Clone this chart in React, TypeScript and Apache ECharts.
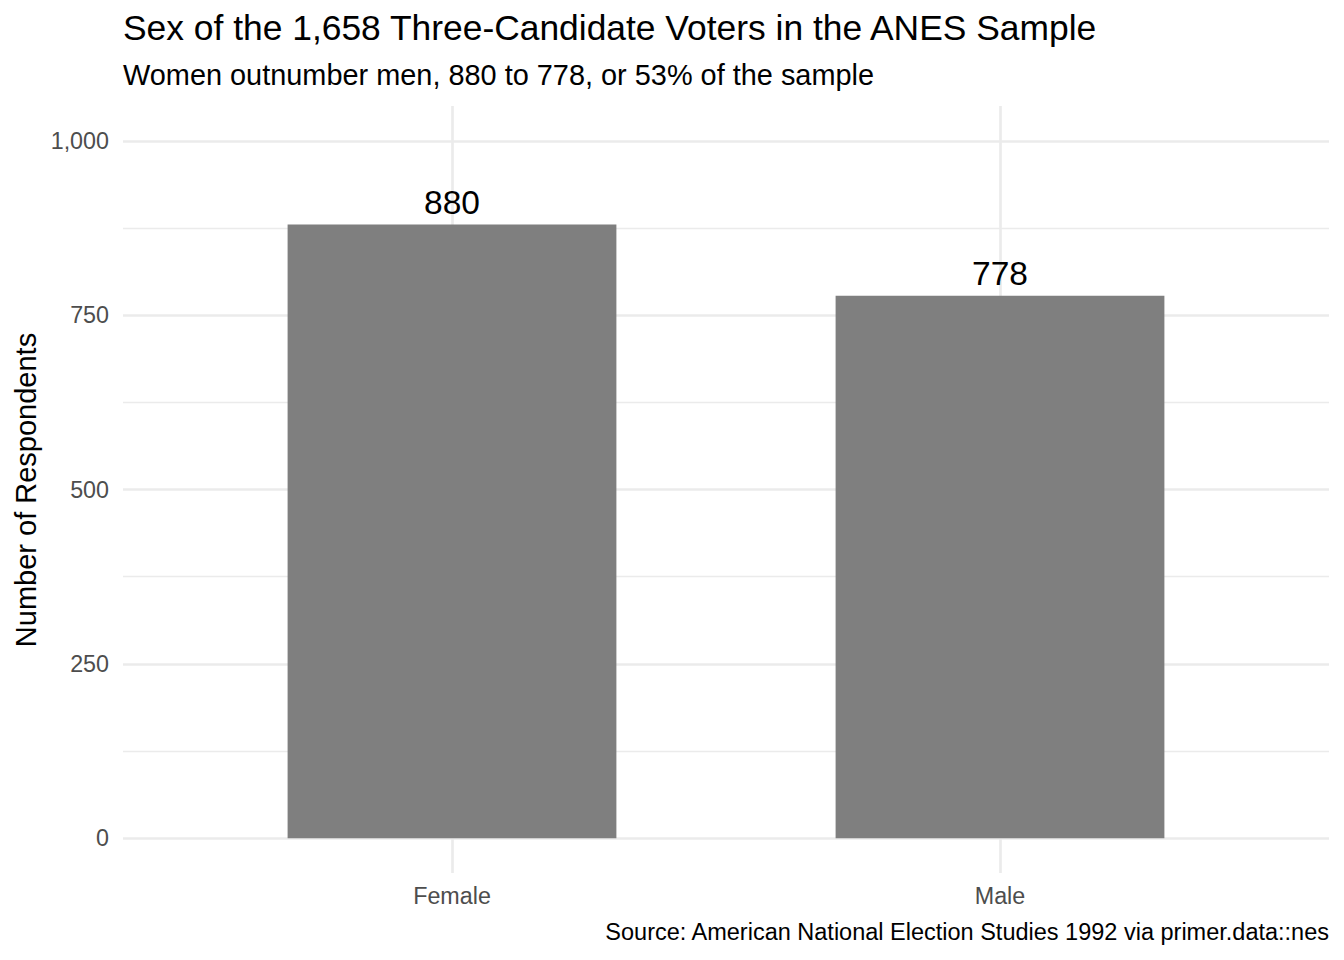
import React, { useEffect, useRef } from "react";
import * as echarts from "echarts";

const categories = ["Female", "Male"];
const counts = [880, 778];
const yMin = 0;
const yMax = 1000;
const yInterval = 250;

const titleText = "Sex of the 1,658 Three-Candidate Voters in the ANES Sample";
const subtitleText = "Women outnumber men, 880 to 778, or 53% of the sample";
const yTitleText = "Number of Respondents";
const captionText = "Source: American National Election Studies 1992 via primer.data::nes";

const FONT = "'Liberation Sans', Arial, Helvetica, sans-serif";
const GRID_COLOR = "#EBEBEB";
const TICK_COLOR = "#4D4D4D";

export default function App() {
  const ref = useRef<HTMLDivElement>(null);
  useEffect(() => {
    document.body.style.margin = "0";
    if (!ref.current) return;
    const chart = echarts.init(ref.current, undefined, { renderer: "svg" });
    const option: any = {
      animation: false,
      backgroundColor: "#FFFFFF",
      grid: [
        { left: 123, right: 15, top: 141, height: 697 },
        { left: 178, right: 70, top: 106, height: 767 },
      ],
      xAxis: [
        { type: "value", gridIndex: 0, min: 0, max: 1, show: false },
        {
          type: "category",
          gridIndex: 1,
          data: categories,
          axisLine: { show: false },
          axisTick: { show: false },
          splitLine: { show: false },
          axisLabel: { color: TICK_COLOR, fontSize: 23.3, fontFamily: FONT, margin: 11 },
        },
      ],
      yAxis: [
        {
          type: "value",
          gridIndex: 0,
          min: yMin,
          max: yMax,
          interval: yInterval,
          axisLine: { show: false },
          axisTick: { show: false },
          axisLabel: {
            color: TICK_COLOR,
            fontSize: 23.3,
            fontFamily: FONT,
            margin: 14,
            formatter: (v: number) => v.toLocaleString("en-US"),
          },
          splitLine: { show: true, lineStyle: { color: GRID_COLOR, width: 2.7 } },
          minorTick: { show: false, splitNumber: 2 },
          minorSplitLine: { show: true, lineStyle: { color: GRID_COLOR, width: 1.4 } },
        },
        { type: "value", gridIndex: 1, min: yMin - 50, max: yMax + 50, show: false },
      ],
      series: [
        {
          type: "bar",
          xAxisIndex: 1,
          yAxisIndex: 1,
          data: counts,
          barWidth: "60%",
          z: 2,
          itemStyle: { color: "#7F7F7F" },
          emphasis: { disabled: true },
          label: {
            show: true,
            position: "top",
            distance: 5,
            color: "#000000",
            fontSize: 33.5,
            fontFamily: FONT,
          },
          markLine: {
            silent: true,
            z: 1,
            symbol: ["none", "none"],
            label: { show: false },
            lineStyle: { color: GRID_COLOR, width: 2.7, type: "solid" },
            emphasis: { disabled: true },
            data: categories.map((c) => ({ xAxis: c })),
          },
        },
      ],
      graphic: [
        {
          type: "text",
          x: 123,
          y: 28,
          style: { text: titleText, fontSize: 35.4, fontFamily: FONT, fill: "#000", align: "left", verticalAlign: "middle" },
        },
        {
          type: "text",
          x: 123,
          y: 75,
          style: { text: subtitleText, fontSize: 28.9, fontFamily: FONT, fill: "#000", align: "left", verticalAlign: "middle" },
        },
        {
          type: "text",
          x: 26,
          y: 490,
          rotation: Math.PI / 2,
          style: { text: yTitleText, fontSize: 29, fontFamily: FONT, fill: "#000", align: "center", verticalAlign: "middle" },
        },
        {
          type: "text",
          x: 1329,
          y: 932,
          style: { text: captionText, fontSize: 23.5, fontFamily: FONT, fill: "#000", align: "right", verticalAlign: "middle" },
        },
      ],
    };
    chart.setOption(option);
    return () => chart.dispose();
  }, []);
  return <div ref={ref} style={{ width: 1344, height: 960 }} />;
}
